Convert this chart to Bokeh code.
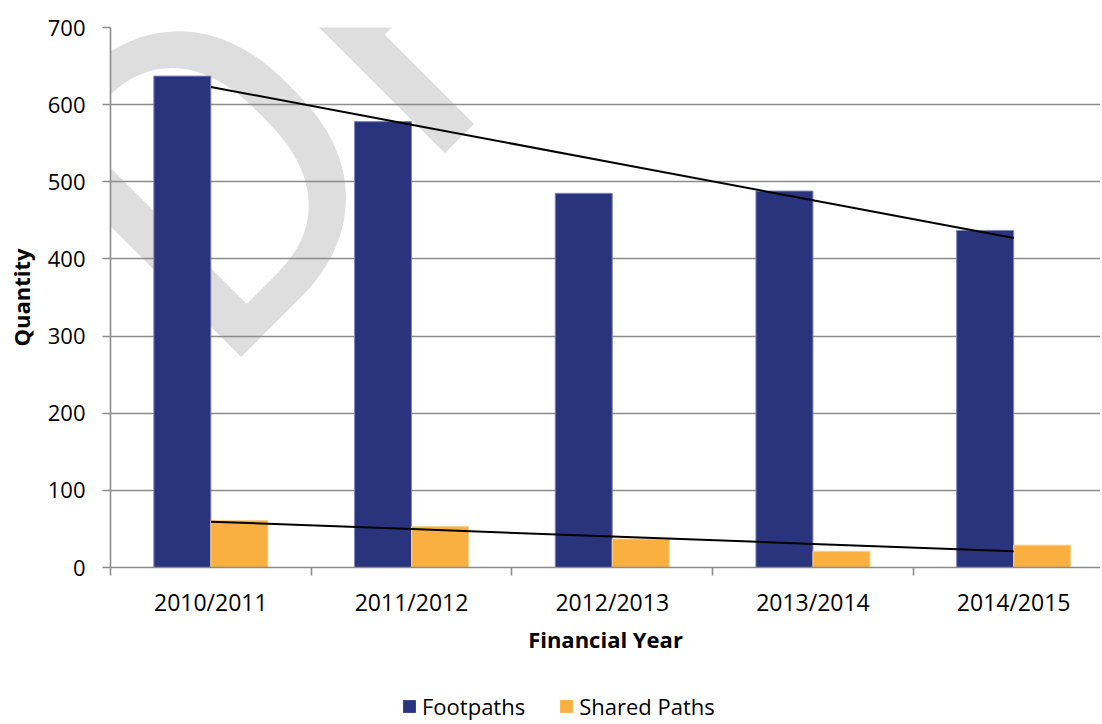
import numpy as np
from bokeh.plotting import figure
from bokeh.layouts import column
from bokeh.models import (ColumnDataSource, Range1d, FixedTicker, Legend, LegendItem,
                          Label)
from bokeh.transform import dodge
from bokeh.embed import file_html
from bokeh.resources import INLINE

years = ["2010/2011", "2011/2012", "2012/2013", "2013/2014", "2014/2015"]
footpaths = [637, 578, 485, 488, 437]
shared_paths = [61, 53, 37, 21, 29]
series_names = ["Footpaths", "Shared Paths"]

FONT = "Open Sans"
BLUE = "#29347C"
ORANGE = "#F9B041"
BLUE_EDGE = "#7f86b8"
ORANGE_EDGE = "#fbd08e"

pos = list(range(1, len(years) + 1))
src = ColumnDataSource(dict(x=pos, years=years, foot=footpaths, shared=shared_paths))

W, H = 1100, 690
LEG_H = 32
LEFT, TOP, BOTTOM = 110, 27, 567
cat_px = 200.7
ypx = (BOTTOM - TOP) / 700.0

p = figure(width=W, height=H, output_backend="svg", toolbar_location=None,
           x_range=Range1d(0.5, 0.5 + (W - LEFT) / cat_px), y_range=Range1d(0, 700),
           min_border_left=LEFT, min_border_right=0, min_border_top=TOP,
           min_border_bottom=H - BOTTOM)
p.outline_line_color = None
p.background_fill_color = "white"
p.border_fill_color = "white"

# watermark
wm = Label(x=0.5 + (109 - LEFT) / cat_px, y=(BOTTOM - 276) / ypx, text="DRAFT",
           angle=np.pi / 4, text_font="Roboto", text_font_size="439px",
           text_color="#dedede", text_baseline="alphabetic", text_align="left",
           level="image")
p.add_layout(wm)

bw = 0.284
p.vbar(x=dodge("x", -bw / 2, range=p.x_range), top="foot", width=bw, source=src,
       fill_color=BLUE, line_color=BLUE_EDGE, line_width=1)
p.vbar(x=dodge("x", bw / 2, range=p.x_range), top="shared", width=bw, source=src,
       fill_color=ORANGE, line_color=ORANGE_EDGE, line_width=1)

# linear trend lines
xs = np.array(pos, dtype=float)
for vals in (footpaths, shared_paths):
    m, b = np.polyfit(xs, np.array(vals, dtype=float), 1)
    p.line(xs, m * xs + b, line_color="black", line_width=2)

# grid
p.xgrid.grid_line_color = None
p.ygrid.grid_line_color = "#8c8c8c"
p.ygrid.grid_line_width = 1.6
p.ygrid.ticker = FixedTicker(ticks=list(range(0, 701, 100)))

# y axis
p.yaxis.ticker = FixedTicker(ticks=list(range(0, 701, 100)))
p.yaxis.axis_line_color = "#8c8c8c"
p.yaxis.axis_line_width = 1.6
p.yaxis.major_tick_line_color = "#8c8c8c"
p.yaxis.major_tick_line_width = 1.6
p.yaxis.major_tick_out = 8
p.yaxis.major_tick_in = 0
p.yaxis.minor_tick_line_color = None
p.yaxis.major_label_standoff = 17
p.yaxis.major_label_text_font = FONT
p.yaxis.major_label_text_font_size = "22px"
p.yaxis.major_label_text_color = "black"
p.yaxis.axis_label = "Quantity"
p.yaxis.axis_label_text_font = FONT
p.yaxis.axis_label_text_font_size = "22px"
p.yaxis.axis_label_text_font_style = "bold"
p.yaxis.axis_label_text_color = "black"
p.yaxis.axis_label_standoff = 9

# x axis
p.xaxis.ticker = FixedTicker(ticks=pos, minor_ticks=[i + 0.5 for i in range(0, len(years) + 1)])
p.xaxis.major_label_overrides = {i: y for i, y in zip(pos, years)}
p.xaxis.axis_line_color = "#8c8c8c"
p.xaxis.axis_line_width = 1.6
p.xaxis.major_tick_line_color = None
p.xaxis.major_tick_out = 0
p.xaxis.major_tick_in = 0
p.xaxis.minor_tick_line_color = "#8c8c8c"
p.xaxis.minor_tick_line_width = 1.6
p.xaxis.minor_tick_out = 8
p.xaxis.minor_tick_in = 0
p.xaxis.major_label_standoff = 10
p.xaxis.major_label_text_font = FONT
p.xaxis.major_label_text_font_size = "23px"
p.xaxis.major_label_text_color = "black"
p.xaxis.axis_label = "Financial Year"
p.xaxis.axis_label_text_font = FONT
p.xaxis.axis_label_text_font_size = "22px"
p.xaxis.axis_label_text_font_style = "bold"
p.xaxis.axis_label_text_color = "black"
p.xaxis.axis_label_standoff = 3

# legend strip (separate figure below the chart)
lg = figure(width=W, height=LEG_H, output_backend="svg", toolbar_location=None,
            x_range=Range1d(0, 1), y_range=Range1d(0, 1),
            x_axis_location=None, y_axis_location=None, min_border=0)
lg.outline_line_color = None
lg.grid.visible = False
dummy = ColumnDataSource(dict(x=[np.nan], y=[np.nan]))
d1 = lg.rect(x="x", y="y", width=0.1, height=0.1, source=dummy,
             fill_color=BLUE, line_color=None)
d2 = lg.rect(x="x", y="y", width=0.1, height=0.1, source=dummy,
             fill_color=ORANGE, line_color=None)
legend = Legend(items=[LegendItem(label=series_names[0], renderers=[d1], index=0),
                       LegendItem(label=series_names[1], renderers=[d2], index=0)],
                orientation="horizontal", location=(291, 1),
                glyph_width=16, glyph_height=16, label_height=16,
                label_standoff=5, spacing=33, padding=0, margin=0,
                label_text_font=FONT, label_text_font_size="22px",
                label_text_color="black", border_line_color=None,
                background_fill_alpha=0)
lg.add_layout(legend)

open("out.html", "w").write(file_html(column(p, lg, spacing=0), INLINE))
